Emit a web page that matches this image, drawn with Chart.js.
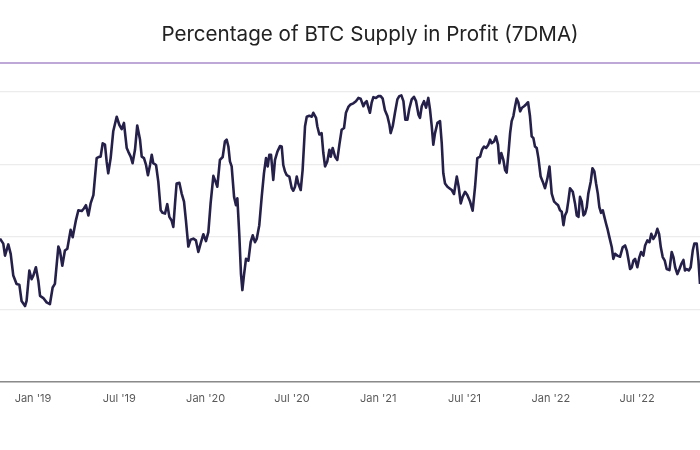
<!DOCTYPE html>
<html>
<head>
<meta charset="utf-8">
<script src="https://cdn.jsdelivr.net/npm/chart.js@4.4.0/dist/chart.umd.min.js"></script>
<style>
  html, body { margin: 0; padding: 0; background: #fff; }
  #wrap { width: 700px; height: 450px; }
</style>
</head>
<body>
<div id="wrap"><canvas id="chart-profit"></canvas></div>
<script>
// chart title
var chartTitle = "Percentage of BTC Supply in Profit (7DMA)";

// x as decimal year, y as % of supply in profit
var dates = [
  2018.809, 2018.828, 2018.838, 2018.857, 2018.871, 2018.886, 2018.905, 2018.921, 2018.934, 2018.954,
  2018.963, 2018.979, 2018.992, 2019.002, 2019.017, 2019.031, 2019.041, 2019.060, 2019.079, 2019.098,
  2019.114, 2019.127, 2019.147, 2019.156, 2019.170, 2019.185, 2019.199, 2019.218, 2019.230, 2019.249,
  2019.263, 2019.282, 2019.295, 2019.307, 2019.321, 2019.334, 2019.350, 2019.369, 2019.380, 2019.392,
  2019.404, 2019.417, 2019.427, 2019.436, 2019.450, 2019.465, 2019.485, 2019.500, 2019.514, 2019.527,
  2019.543, 2019.552, 2019.566, 2019.577, 2019.591, 2019.604, 2019.620,
  2019.630, 2019.643, 2019.655, 2019.666, 2019.678, 2019.688, 2019.697, 2019.713, 2019.726, 2019.740,
  2019.751, 2019.765, 2019.778, 2019.790, 2019.803, 2019.813, 2019.823, 2019.832, 2019.848, 2019.861,
  2019.875, 2019.886, 2019.900, 2019.913, 2019.929, 2019.944, 2019.958, 2019.971, 2019.987, 2020.002,
  2020.016, 2020.029, 2020.045, 2020.054, 2020.068, 2020.083, 2020.099, 2020.112, 2020.122, 2020.132,
  2020.141, 2020.151, 2020.165, 2020.176, 2020.184, 2020.195, 2020.205, 2020.213, 2020.222, 2020.234,
  2020.248, 2020.261, 2020.273, 2020.286, 2020.296, 2020.311, 2020.325, 2020.338, 2020.350, 2020.360,
  2020.369, 2020.379, 2020.392, 2020.402, 2020.416,
  2020.431, 2020.441, 2020.450, 2020.460, 2020.470, 2020.485, 2020.499, 2020.508, 2020.518, 2020.528,
  2020.537, 2020.551, 2020.562, 2020.576, 2020.586, 2020.601, 2020.615, 2020.624, 2020.640, 2020.647,
  2020.659, 2020.672, 2020.682, 2020.692, 2020.705, 2020.717, 2020.725, 2020.736, 2020.750, 2020.763,
  2020.775, 2020.788, 2020.802, 2020.813, 2020.827, 2020.840, 2020.856, 2020.871, 2020.885, 2020.898,
  2020.914, 2020.924, 2020.933, 2020.943, 2020.952, 2020.962, 2020.972, 2020.987, 2021.001, 2021.014,
  2021.026, 2021.039, 2021.053, 2021.065, 2021.072, 2021.084, 2021.097, 2021.111, 2021.122, 2021.134,
  2021.146, 2021.157, 2021.169, 2021.180, 2021.194, 2021.207, 2021.219, 2021.233,
  2021.242, 2021.252, 2021.265, 2021.277, 2021.290, 2021.300, 2021.310, 2021.319, 2021.329, 2021.343,
  2021.358, 2021.368, 2021.377, 2021.387, 2021.401, 2021.412, 2021.426, 2021.439, 2021.455, 2021.466,
  2021.478, 2021.489, 2021.503, 2021.516, 2021.532, 2021.547, 2021.561, 2021.574, 2021.590, 2021.601,
  2021.613, 2021.625, 2021.638, 2021.648, 2021.657, 2021.671, 2021.682, 2021.694, 2021.702, 2021.713,
  2021.725, 2021.735, 2021.744, 2021.756, 2021.764, 2021.773, 2021.783, 2021.793, 2021.802, 2021.812,
  2021.822, 2021.833, 2021.845, 2021.856, 2021.868, 2021.879, 2021.889, 2021.899, 2021.908, 2021.918,
  2021.928, 2021.941, 2021.953, 2021.966, 2021.980, 2021.992, 2022.005, 2022.019, 2022.030, 2022.042,
  2022.053, 2022.063, 2022.073, 2022.082, 2022.092, 2022.102, 2022.111, 2022.127, 2022.140, 2022.150,
  2022.160, 2022.169, 2022.179, 2022.189, 2022.198, 2022.208, 2022.217, 2022.231, 2022.241, 2022.252,
  2022.262, 2022.272, 2022.281, 2022.291, 2022.301, 2022.310, 2022.320, 2022.328, 2022.339, 2022.353,
  2022.362, 2022.372, 2022.385, 2022.401, 2022.416, 2022.430, 2022.440, 2022.449, 2022.459, 2022.469,
  2022.478, 2022.488, 2022.501, 2022.513, 2022.523, 2022.536, 2022.546, 2022.559, 2022.571, 2022.582,
  2022.594, 2022.606, 2022.617, 2022.627, 2022.637, 2022.648, 2022.660, 2022.671, 2022.687, 2022.700,
  2022.710, 2022.720, 2022.733, 2022.745, 2022.756, 2022.768, 2022.777, 2022.787, 2022.799, 2022.810,
  2022.822, 2022.831, 2022.845, 2022.855, 2022.864
];
var profitPct = [
  59.5, 58.1, 54.8, 57.9, 55.3, 49.3, 47.0, 46.8, 42.3, 40.9,
  42.3, 50.7, 48.3, 49.3, 51.6, 47.9, 43.7, 43.1, 41.9, 41.4,
  46.0, 47.0, 57.3, 56.2, 52.0, 56.2, 56.7, 61.9, 59.9, 64.6,
  67.3, 67.1, 67.8, 68.7, 65.9, 69.2, 71.5, 81.7, 82.0, 82.1,
  85.8, 85.4, 80.7, 77.5, 81.7, 89.1, 93.1, 90.9, 89.7, 91.4,
  84.5, 83.5, 82.1, 80.3, 84.0, 90.7, 86.8,
  82.1, 81.7, 79.8, 77.0, 79.8, 82.6, 80.3, 79.8, 75.2, 67.3,
  66.6, 66.4, 69.0, 65.5, 64.5, 62.7, 69.2, 74.7, 74.9, 72.0,
  69.7, 64.5, 57.3, 59.2, 59.5, 59.0, 55.8, 58.1, 60.7, 58.8,
  61.3, 69.2, 76.8, 75.7, 73.8, 81.2, 82.0, 86.3, 86.8, 84.9,
  80.8, 79.4, 71.0, 68.7, 70.6, 60.8, 49.7, 45.3, 49.3, 53.9,
  53.4, 58.5, 60.4, 58.5, 59.4, 63.2, 71.0, 77.5, 81.7, 79.4,
  82.6, 82.6, 75.7, 81.2, 83.5,
  85.0, 84.9, 79.8, 78.0, 77.0, 76.6, 73.4, 72.7, 73.8, 76.6,
  74.7, 72.9, 78.4, 90.5, 93.1, 93.4, 93.1, 94.2, 92.8, 90.5,
  88.2, 88.6, 83.1, 79.4, 80.8, 84.0, 82.1, 84.5, 82.1, 81.2,
  85.4, 89.5, 90.0, 94.2, 95.8, 96.5, 96.8, 97.4, 98.3, 98.1,
  96.0, 97.0, 97.4, 95.6, 94.2, 97.0, 98.5, 98.3, 98.8, 98.8,
  98.1, 94.9, 93.3, 90.9, 88.6, 90.5, 94.2, 97.9, 98.8, 99.0,
  97.4, 92.3, 92.3, 95.3, 97.9, 98.6, 97.4, 93.7,
  92.8, 96.0, 97.4, 95.6, 98.3, 95.1, 90.5, 85.4, 88.6, 91.4,
  91.9, 85.8, 77.5, 74.7, 73.8, 73.4, 72.9, 71.8, 76.6, 73.8,
  69.2, 71.0, 72.4, 71.5, 69.7, 67.2, 73.8, 81.7, 82.1, 84.0,
  84.9, 84.5, 85.4, 86.8, 85.8, 86.3, 87.7, 85.4, 80.3, 83.1,
  81.2, 78.4, 77.7, 84.0, 88.6, 91.9, 93.3, 96.0, 98.1, 97.0,
  94.6, 95.6, 96.0, 96.5, 97.1, 93.3, 87.7, 87.2, 84.9, 84.5,
  81.7, 76.6, 75.2, 73.4, 76.1, 79.4, 71.9, 69.7, 69.2, 68.7,
  67.3, 66.9, 63.2, 65.9, 66.9, 70.1, 73.4, 72.4, 69.2, 65.9,
  65.5, 71.0, 69.7, 65.9, 66.4, 68.2, 71.9, 75.2, 78.9, 78.0,
  74.7, 71.9, 68.2, 66.6, 67.3, 65.5, 63.6, 62.2, 59.9, 57.1,
  53.9, 55.3, 54.8, 54.5, 57.1, 57.6, 56.2, 53.9, 51.1, 51.6,
  53.4, 53.9, 51.6, 54.4, 55.8, 54.8, 57.6, 59.0, 58.5, 60.8,
  59.4, 60.4, 62.2, 60.8, 57.1, 54.4, 53.4, 51.1, 50.8, 55.8,
  54.4, 51.6, 49.7, 51.1, 52.5, 53.6, 50.7, 51.1, 50.7, 51.6,
  56.2, 58.1, 58.1, 53.4, 47.0
];

// x ticks
var tickYears = [2019, 2019.5, 2020, 2020.5, 2021, 2021.5, 2022, 2022.5];
var tickLabels = ["Jan '19", "Jul '19", "Jan '20", "Jul '20", "Jan '21", "Jul '21", "Jan '22", "Jul '22"];
// y grid
var yGrid = [20, 40, 60, 80, 100];

var points = dates.map(function (d, i) { return { x: d, y: profitPct[i] }; });

// title + purple rule under it
var headerPlugin = {
  id: 'header',
  afterDraw: function (chart) {
    var c = chart.ctx;
    c.save();
    c.fillStyle = '#222';
    c.font = '20.6px Inter';
    c.textAlign = 'center';
    c.textBaseline = 'middle';
    c.fillText(chartTitle, 370, 35);
    c.strokeStyle = '#a98bcb';
    c.lineWidth = 1.6;
    c.beginPath();
    c.moveTo(0, 63);
    c.lineTo(chart.width, 63);
    c.stroke();
    c.restore();
  }
};

var ctx = document.getElementById('chart-profit').getContext('2d');
var chart = new Chart(ctx, {
  type: 'line',
  data: {
    datasets: [{
      label: 'Supply in Profit',
      data: points,
      borderColor: '#25204a',
      borderWidth: 2.6,
      pointRadius: 0,
      tension: 0,
      fill: false,
      borderJoinStyle: 'round'
    }]
  },
  options: {
    responsive: true,
    maintainAspectRatio: false,
    animation: false,
    layout: { padding: { top: 70, left: 0, right: 0, bottom: 35 } },
    plugins: {
      legend: { display: false },
      title: { display: false },
      tooltip: { enabled: false }
    },
    scales: {
      x: {
        type: 'linear',
        min: 2018.809,
        max: 2022.864,
        afterBuildTicks: function (scale) {
          scale.ticks = tickYears.map(function (v) { return { value: v }; });
        },
        ticks: {
          autoSkip: false,
          maxRotation: 0,
          padding: 10,
          color: '#5a5a5a',
          font: { family: 'Inter', size: 11 },
          callback: function (v) {
            var i = tickYears.indexOf(v);
            return i >= 0 ? tickLabels[i] : '';
          }
        },
        grid: { display: false, drawTicks: false },
        border: { display: true, color: '#8a8a8a', width: 1.6 }
      },
      y: {
        min: 20,
        max: 106,
        afterBuildTicks: function (scale) {
          scale.ticks = yGrid.map(function (v) { return { value: v }; });
        },
        ticks: { display: false },
        grid: { color: '#ececec', lineWidth: 1.2, drawTicks: false },
        border: { display: false }
      }
    }
  },
  plugins: [headerPlugin]
});
</script>
</body>
</html>
